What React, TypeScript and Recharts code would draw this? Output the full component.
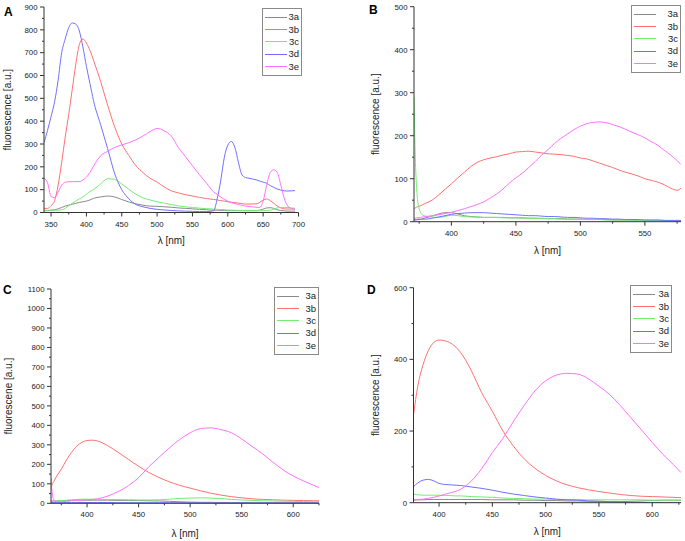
import { LineChart, Line, XAxis, YAxis, Legend } from "recharts";

const SERIES = ["3a", "3b", "3c", "3d", "3e"];
const COLORS: Record<string, string> = {
  "3a": "#8a8a8a",
  "3b": "#ff7070",
  "3c": "#70ee70",
  "3d": "#7070ff",
  "3e": "#ff70ff",
};
const FONT = "'Liberation Sans', Arial, sans-serif";

// ---- Panel A ----
const wavelengthA = [340, 345, 350, 355, 360, 365, 370, 375, 380, 385, 390, 395, 400, 405, 410, 420, 430, 440, 450, 460, 470, 480, 490, 500, 510, 520, 530, 540, 550, 560, 570, 580, 585, 590, 595, 600, 605, 610, 615, 620, 625, 630, 640, 645, 650, 655, 660, 665, 670, 675, 680, 685, 690, 695];
const a3a = [8, 8, 10, 12, 16, 22, 28, 32, 36, 40, 44, 47, 50, 55, 62, 68, 72, 68, 57, 46, 38, 32, 28, 27, 25, 23, 20, 18, 16, 14, 12, 10, 10, 9, 9, 8, 8, 8, 8, 8, 8, 8, 8, 10, 15, 20, 21, 18, 12, 9, 7, 6, 6, 6];
const a3b = [18, 18, 30, 52, 120, 220, 330, 430, 540, 650, 735, 760, 742, 710, 667, 575, 470, 375, 300, 250, 205, 175, 150, 133, 112, 95, 86, 78, 72, 66, 61, 57, 55, 52, 50, 47, 45, 43, 41, 39, 37, 37, 38, 44, 54, 59, 52, 40, 28, 20, 16, 15, 15, 15];
const a3c = [10, 10, 10, 10, 10, 12, 18, 30, 40, 50, 60, 68, 80, 92, 100, 125, 148, 145, 125, 102, 80, 64, 55, 47, 41, 35, 29, 25, 22, 19, 17, 15, 14, 13, 12, 11, 10, 10, 9, 9, 8, 8, 8, 8, 8, 9, 10, 14, 20, 22, 22, 22, 20, 18];
const a3d = [305, 360, 420, 485, 580, 700, 760, 810, 830, 825, 795, 725, 640, 565, 490, 385, 280, 170, 100, 60, 35, 25, 18, 14, 11, 9, 7, 6, 5, 4, 4, 8, 60, 140, 240, 295, 311, 285, 220, 165, 153, 150, 143, 138, 133, 128, 118, 110, 103, 98, 95, 94, 95, 96];
const a3e = [150, 130, 70, 65, 90, 120, 132, 135, 135, 135, 135, 142, 155, 175, 203, 248, 268, 285, 296, 306, 318, 335, 354, 368, 358, 335, 285, 245, 205, 165, 128, 90, 80, 68, 58, 50, 43, 39, 35, 31, 28, 26, 23, 22, 50, 120, 175, 187, 175, 120, 60, 28, 18, 15];
const xTicksA = [350, 375, 400, 425, 450, 475, 500, 525, 550, 575, 600, 625, 650, 675, 700];
const yTicksA = [0, 50, 100, 150, 200, 250, 300, 350, 400, 450, 500, 550, 600, 650, 700, 750, 800, 850, 900];

// ---- Panel B ----
const wavelengthB = [371, 372, 373, 374, 376, 378, 380, 385, 390, 395, 400, 405, 410, 415, 420, 425, 430, 435, 440, 445, 450, 455, 460, 465, 470, 475, 480, 485, 490, 495, 500, 505, 510, 515, 520, 525, 530, 535, 540, 545, 550, 555, 560, 565, 570, 575, 578];
const b3a = [5, 5, 5, 6, 6, 7, 9, 13, 18, 21, 21, 18, 14, 12, 11, 10, 10, 10, 10, 9, 9, 9, 8, 8, 8, 7, 7, 7, 6, 6, 6, 5, 5, 5, 5, 4, 4, 4, 4, 3, 3, 3, 3, 3, 2, 2, 2];
const b3b = [31, 32, 34, 35, 37, 40, 43, 50, 62, 75, 88, 102, 115, 128, 138, 144, 148, 151, 155, 158, 162, 163, 164, 162, 160, 158, 157, 156, 154, 152, 148, 146, 141, 136, 131, 126, 120, 115, 111, 106, 100, 96, 92, 86, 78, 73, 78];
const b3c = [290, 150, 80, 45, 22, 15, 13, 11, 10, 12, 15, 14, 12, 11, 11, 10, 10, 10, 9, 9, 9, 8, 8, 8, 7, 7, 7, 6, 6, 6, 5, 5, 5, 5, 4, 4, 4, 4, 4, 3, 3, 3, 3, 3, 3, 3, 3];
const b3d = [4, 4, 4, 5, 5, 6, 6, 8, 11, 14, 17, 19, 20, 21, 21, 21, 20, 19, 18, 17, 16, 15, 14, 14, 13, 12, 12, 11, 10, 10, 9, 8, 8, 7, 7, 6, 6, 5, 5, 5, 4, 4, 4, 3, 3, 3, 3];
const b3e = [8, 8, 9, 9, 10, 11, 12, 14, 16, 19, 22, 26, 30, 35, 40, 46, 55, 64, 76, 90, 102, 113, 126, 140, 155, 168, 182, 194, 204, 214, 222, 228, 231, 232, 230, 226, 221, 215, 208, 202, 195, 186, 178, 166, 155, 142, 133];
const xTicksB = [375, 400, 425, 450, 475, 500, 525, 550, 575];
const yTicksB = [0, 50, 100, 150, 200, 250, 300, 350, 400, 450, 500];

// ---- Panel C ----
const wavelengthC = [365, 366, 368, 370, 375, 380, 385, 390, 395, 400, 405, 410, 420, 430, 440, 450, 460, 470, 480, 490, 500, 510, 520, 530, 540, 550, 560, 570, 580, 590, 600, 610, 620, 625];
const c3a = [12, 12, 12, 12, 13, 14, 15, 16, 16, 16, 16, 16, 16, 15, 15, 14, 13, 12, 10, 8, 6, 5, 5, 4, 4, 4, 3, 3, 3, 3, 3, 3, 3, 3];
const c3b = [78, 95, 115, 135, 175, 222, 262, 293, 313, 322, 324, 320, 296, 262, 226, 190, 158, 132, 110, 92, 78, 64, 52, 42, 34, 28, 23, 20, 18, 16, 15, 14, 13, 13];
const c3c = [10, 10, 11, 12, 14, 16, 18, 20, 21, 21, 21, 20, 20, 19, 18, 17, 17, 18, 21, 25, 27, 28, 27, 24, 20, 17, 15, 13, 12, 11, 10, 9, 8, 8];
const c3d = [4, 4, 4, 4, 4, 4, 4, 4, 4, 4, 4, 4, 4, 3, 3, 3, 3, 3, 3, 3, 3, 3, 2, 2, 2, 2, 2, 2, 2, 2, 2, 2, 2, 2];
const c3e = [130, 60, 15, 8, 8, 10, 13, 16, 17, 18, 20, 23, 37, 60, 90, 132, 188, 237, 285, 328, 362, 383, 387, 378, 362, 330, 292, 255, 212, 172, 140, 115, 92, 81];
const xTicksC = [375, 400, 425, 450, 475, 500, 525, 550, 575, 600, 625];
const yTicksC = [0, 50, 100, 150, 200, 250, 300, 350, 400, 450, 500, 550, 600, 650, 700, 750, 800, 850, 900, 950, 1000, 1050, 1100];

// ---- Panel D ----
const wavelengthD = [376, 380, 385, 390, 395, 400, 405, 410, 415, 420, 430, 440, 450, 460, 470, 480, 490, 500, 510, 520, 530, 540, 550, 560, 570, 580, 590, 600, 610, 620, 627];
const d3a = [7, 8, 8, 9, 9, 9, 9, 9, 9, 9, 9, 9, 8, 8, 8, 7, 7, 6, 6, 5, 5, 4, 4, 3, 3, 4, 5, 6, 7, 7, 7];
const d3b = [245, 325, 385, 425, 447, 454, 452, 447, 436, 420, 370, 307, 255, 200, 157, 122, 96, 76, 61, 50, 42, 36, 31, 27, 23, 20, 18, 17, 16, 15, 14];
const d3c = [24, 22, 21, 21, 21, 21, 20, 20, 19, 19, 17, 16, 15, 13, 12, 11, 10, 10, 9, 9, 9, 8, 8, 8, 8, 8, 8, 7, 7, 7, 7];
const d3d = [45, 55, 63, 65, 61, 54, 51, 50, 49, 48, 44, 40, 35, 29, 24, 20, 16, 13, 10, 8, 7, 5, 4, 3, 2, 1, 1, 0, 0, 0, 0];
const d3e = [8, 9, 10, 12, 15, 19, 23, 27, 31, 37, 60, 95, 140, 180, 228, 272, 312, 340, 356, 361, 359, 346, 325, 302, 271, 237, 203, 168, 135, 106, 84];
const xTicksD = [400, 425, 450, 475, 500, 525, 550, 575, 600, 625];
const yTicksD = [0, 100, 200, 300, 400, 500, 600];

function buildRows(wl: number[], cols: number[][]) {
  return wl.map((w, i) => {
    const row: any = { wl: w };
    SERIES.forEach((s, k) => (row[s] = cols[k][i]));
    return row;
  });
}

const isMajor = (v: number, step: number) => Math.abs(v / step - Math.round(v / step)) < 1e-6;

const makeXTick = (major: number) => (props: any) => {
  const { x, y, payload } = props;
  const m = isMajor(payload.value, major);
  return (
    <g>
      <line x1={x} x2={x} y1={y} y2={y + (m ? 4 : 2)} stroke="#333" />
      {m && (
        <text x={x} y={y + 14} textAnchor="middle" fontSize={7.8} fill="#222" fontFamily={FONT}>
          {payload.value}
        </text>
      )}
    </g>
  );
};

const makeYTick = (major: number) => (props: any) => {
  const { x, y, payload } = props;
  const m = isMajor(payload.value, major);
  return (
    <g>
      <line x1={x} x2={x - (m ? 4 : 2)} y1={y} y2={y} stroke="#333" />
      {m && (
        <text x={x - 6.5} y={y + 2.8} textAnchor="end" fontSize={7.8} fill="#222" fontFamily={FONT}>
          {payload.value}
        </text>
      )}
    </g>
  );
};

const makeLegend = (w: number) => () => (
  <div
    style={{
      width: w,
      boxSizing: "border-box",
      border: "1px solid #8a8a8a",
      background: "#fff",
      padding: "2px 2px 2px 2px",
      fontFamily: FONT,
      fontSize: 9.5,
      color: "#222",
    }}
  >
    {SERIES.map((s) => (
      <div key={s} style={{ display: "flex", alignItems: "center", height: 12.4 }}>
        <div style={{ width: 22, height: 1, flexShrink: 0, background: COLORS[s] }} />
        <span style={{ marginLeft: "auto", lineHeight: "12px" }}>{s}</span>
      </div>
    ))}
  </div>
);

interface PanelProps {
  letter: string;
  box: { left: number; top: number; width: number; height: number };
  margin: { top: number; right: number; bottom: number; left: number };
  yAxisWidth: number;
  xAxisHeight: number;
  xDomain: [number, number];
  xTicks: number[];
  yDomain: [number, number];
  yTicks: number[];
  yMajor: number;
  yLabel: string;
  yLabelOffset: number;
  rows: any[];
  legend: { left: number; top: number; width: number };
  letterPos: { left: number; top: number };
}

function Panel(p: PanelProps) {
  return (
    <>
      <div
        style={{
          position: "absolute",
          left: p.letterPos.left,
          top: p.letterPos.top,
          fontFamily: FONT,
          fontWeight: "bold",
          fontSize: 12,
          lineHeight: "12px",
        }}
      >
        {p.letter}
      </div>
      <div style={{ position: "absolute", left: p.box.left, top: p.box.top }}>
        <LineChart width={p.box.width} height={p.box.height} data={p.rows} margin={p.margin}>
          <XAxis
            dataKey="wl"
            type="number"
            domain={p.xDomain}
            allowDataOverflow
            ticks={p.xTicks}
            interval={0}
            height={p.xAxisHeight}
            tickLine={false}
            tickSize={0}
            tickMargin={0}
            axisLine={{ stroke: "#333" }}
            tick={makeXTick(50)}
            label={{
              value: "λ [nm]",
              position: "insideBottom",
              offset: 0,
              style: { fontSize: 10, fill: "#222", fontFamily: FONT },
            }}
          />
          <YAxis
            type="number"
            domain={p.yDomain}
            allowDataOverflow
            ticks={p.yTicks}
            interval={0}
            width={p.yAxisWidth}
            tickLine={false}
            tickSize={0}
            tickMargin={0}
            axisLine={{ stroke: "#333" }}
            tick={makeYTick(p.yMajor)}
            label={{
              value: p.yLabel,
              angle: -90,
              position: "insideLeft",
              offset: p.yLabelOffset,
              style: { textAnchor: "middle", fontSize: 10, fill: "#222", fontFamily: FONT },
            }}
          />
          <Legend
            layout="vertical"
            align="center"
            verticalAlign="middle"
            content={makeLegend(p.legend.width)}
            wrapperStyle={{ left: p.legend.left, top: p.legend.top, width: p.legend.width, height: "auto" }}
          />
          {SERIES.map((s) => (
            <Line
              key={s}
              type="monotone"
              dataKey={s}
              name={s}
              stroke={COLORS[s]}
              strokeWidth={1}
              dot={false}
              activeDot={false}
              isAnimationActive={false}
            />
          ))}
        </LineChart>
      </div>
    </>
  );
}

export default function App() {
  return (
    <div
      style={{
        position: "absolute",
        left: 0,
        top: 0,
        width: 685,
        height: 541,
        background: "#fff",
        overflow: "hidden",
      }}
    >
      <Panel
        letter="A"
        box={{ left: 0, top: 0, width: 310, height: 262 }}
        margin={{ top: 7, right: 11.5, bottom: 18, left: 0 }}
        yAxisWidth={44}
        xAxisHeight={31.5}
        xDomain={[340, 700]}
        xTicks={xTicksA}
        yDomain={[0, 900]}
        yTicks={yTicksA}
        yMajor={100}
        yLabel="fluorescence [a.u.]"
        yLabelOffset={7.5}
        rows={buildRows(wavelengthA, [a3a, a3b, a3c, a3d, a3e])}
        legend={{ left: 262, top: 8, width: 40 }}
        letterPos={{ left: 4, top: 6 }}
      />
      <Panel
        letter="B"
        box={{ left: 342, top: 0, width: 343, height: 270 }}
        margin={{ top: 6.7, right: 4, bottom: 16.3, left: 0 }}
        yAxisWidth={72}
        xAxisHeight={32}
        xDomain={[371, 578]}
        xTicks={xTicksB}
        yDomain={[0, 500]}
        yTicks={yTicksB}
        yMajor={100}
        yLabel="fluorescence [a.u.]"
        yLabelOffset={33}
        rows={buildRows(wavelengthB, [b3a, b3b, b3c, b3d, b3e])}
        legend={{ left: 289, top: 5, width: 50 }}
        letterPos={{ left: 369, top: 4 }}
      />
      <Panel
        letter="C"
        box={{ left: 0, top: 270, width: 342, height: 271 }}
        margin={{ top: 19, right: 23, bottom: 3.7, left: 0 }}
        yAxisWidth={51}
        xAxisHeight={34}
        xDomain={[365, 625]}
        xTicks={xTicksC}
        yDomain={[0, 1100]}
        yTicks={yTicksC}
        yMajor={100}
        yLabel="fluorescene [a.u.]"
        yLabelOffset={8.5}
        rows={buildRows(wavelengthC, [c3a, c3b, c3c, c3d, c3e])}
        legend={{ left: 274, top: 17, width: 45 }}
        letterPos={{ left: 3, top: 284 }}
      />
      <Panel
        letter="D"
        box={{ left: 342, top: 270, width: 343, height: 271 }}
        margin={{ top: 17.7, right: 4, bottom: 6, left: 0 }}
        yAxisWidth={71.5}
        xAxisHeight={32.3}
        xDomain={[376, 627]}
        xTicks={xTicksD}
        yDomain={[0, 600]}
        yTicks={yTicksD}
        yMajor={200}
        yLabel="fluorescence [a.u.]"
        yLabelOffset={33}
        rows={buildRows(wavelengthD, [d3a, d3b, d3c, d3d, d3e])}
        legend={{ left: 288, top: 15, width: 42 }}
        letterPos={{ left: 367, top: 284 }}
      />
    </div>
  );
}
